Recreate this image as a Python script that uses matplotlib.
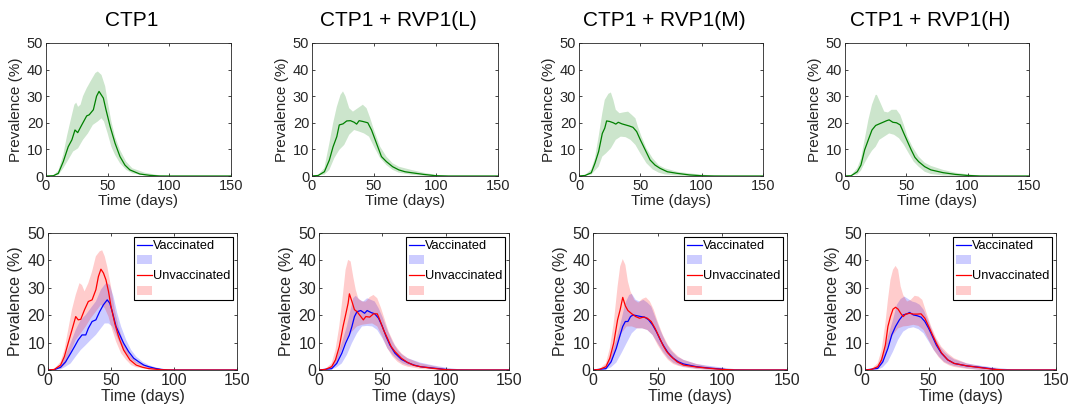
import matplotlib
matplotlib.use('Agg')
import matplotlib.pyplot as plt
from matplotlib.lines import Line2D
from matplotlib.patches import Patch

plt.rcParams['font.family'] = ['Liberation Sans', 'DejaVu Sans']

# column titles
titles = ['CTP1', 'CTP1 + RVP1(L)', 'CTP1 + RVP1(M)', 'CTP1 + RVP1(H)']

# top row: overall prevalence (day, %) - median, upper and lower bands
g1_mid = [(0,0),(6,0.1),(10,1),(14,5.4),(18,11),(21,13.6),(23.5,17.3),(25.7,16.3),(29,19.2),(33,22.6),(35,23),(38.4,24.9),(41,30),(43,31.8),(46.5,29.3),(48.6,25),(52,18.6),(56,12.3),(60,7.3),(64,4.1),(68,2.3),(76,0.75),(84,0.25),(92,0),(150,0)]
g1_hi = [(0,0),(6,0.3),(10,2),(14,8),(17,15),(20,21),(23,26.8),(24.5,27.6),(26,26),(28,26.8),(30,30),(33,33),(36,35.5),(40,38.7),(42,39.3),(45,38),(48,33.7),(50,28),(53,20.5),(56,14.8),(60,9.8),(65,5.4),(70,2.9),(80,1.25),(90,0.4),(100,0),(150,0)]
g1_lo = [(0,0),(10,0.3),(14,2.9),(18,6),(22,9.2),(26,10.4),(30,13.6),(34,16),(38,19.2),(42,20.5),(45,21.7),(47,20.5),(50,16),(53,11),(56,7.9),(60,4.8),(65,2.3),(70,1),(80,0.2),(90,0),(150,0)]

g2_mid = [(0,0),(5,0.2),(10,1.6),(14,6),(17,11),(20,14.8),(22,19.2),(25,19.6),(28,20.7),(31,20.8),(34,20.2),(36,19.5),(38,20.8),(41,20.5),(45,20),(48,17.3),(52,12.3),(56,7.3),(60,5.4),(65,3.5),(70,2.3),(75,1.6),(80,1.25),(90,0.6),(100,0.1),(110,0),(150,0)]
g2_hi = [(0,0),(5,0.4),(10,3),(14,12.3),(17,19.8),(20,26),(23,30.5),(25,31.8),(27,30),(30,25.5),(33,24.2),(37,25.5),(41,26.8),(44,25.5),(47,21.7),(50,17.3),(55,11),(60,7.3),(65,4.8),(70,3.5),(80,2.3),(90,1.25),(100,0.4),(110,0),(150,0)]
g2_lo = [(0,0),(10,0.5),(14,2.3),(18,6.7),(22,9.8),(26,11.7),(30,15.5),(34,17.3),(38,16.7),(42,16),(46,14.8),(50,11),(55,6.7),(60,4.1),(65,2.3),(70,1.25),(80,0.5),(90,0.1),(100,0),(150,0)]

g3_mid = [(0,0),(5,0.2),(10,1.2),(13,4.8),(16,9.2),(19,16),(21,18),(22.5,20.7),(25,20.5),(28,20),(30,19.5),(32,20.2),(35,19.6),(38,19.2),(41,18.8),(44,18.3),(47,16.7),(50,13.6),(54,9.8),(58,6),(62,4.1),(66,2.9),(72,1.6),(80,1),(90,0.4),(100,0.1),(110,0),(150,0)]
g3_hi = [(0,0),(5,0.4),(10,2.5),(13,6.7),(16,14.8),(19,23.6),(21,28.6),(24,30.9),(26,31.4),(28,28.6),(30,24.9),(33,23.6),(36,23.9),(40,24.2),(43,23),(46,21.7),(48,18.6),(51,14.8),(55,10.4),(60,6.7),(65,4.1),(70,2.9),(80,1.6),(90,1),(100,0.5),(115,0.1),(120,0),(150,0)]
g3_lo = [(0,0),(10,0.5),(13,2),(16,3.5),(19,7.3),(22,8.5),(26,10.4),(30,13.6),(34,14.8),(38,14.6),(42,13.6),(46,11.7),(50,8.5),(55,4.8),(60,2.5),(65,1.25),(70,0.6),(80,0.2),(90,0),(150,0)]

g4_mid = [(0,0),(5,0.1),(10,1.6),(13,4.1),(16,9.8),(19,13.6),(22,17.3),(25,19),(28,19.6),(31,20.2),(34,20.8),(36,21.1),(39,20.2),(42,20),(45,19.2),(48,16),(51,12.9),(54,9.8),(57,7),(60,5.4),(65,3.5),(70,2.3),(80,1.25),(90,0.6),(100,0.2),(110,0),(150,0)]
g4_hi = [(0,0),(5,0.3),(10,3),(13,6.5),(16,13.6),(19,21),(22,26.8),(25,30.5),(26,30.5),(29,27.4),(32,24.2),(35,23.9),(38,24.9),(42,24.9),(45,23),(48,19.2),(51,14.8),(55,11),(60,7.3),(65,5),(70,3.8),(80,2.3),(90,1.25),(100,0.6),(110,0.2),(120,0),(150,0)]
g4_lo = [(0,0),(10,0.5),(13,2),(16,4.8),(19,7.3),(22,9.5),(25,11),(28,13.6),(32,14.8),(36,16),(40,15.5),(44,14.2),(48,11.7),(52,8.5),(56,5.4),(60,3.5),(65,1.6),(70,0.75),(80,0.2),(90,0),(150,0)]

# bottom row: vaccinated (v) and unvaccinated (u)
v1_mid = [(0,0),(5,0.1),(10,1),(14,3),(18,6.1),(21,8.5),(24,11),(27,12.8),(30,12.8),(32,15.2),(35,17.7),(38,18.3),(41,21.3),(44,23.8),(47,25.6),(49,24.4),(51,21.3),(54,15.9),(57,12.8),(60,9.8),(64,6.7),(68,4.3),(72,3),(76,1.8),(80,1.2),(85,0.6),(90,0.2),(95,0),(150,0)]
v1_hi = [(0,0),(5,0.2),(10,1.5),(14,5.5),(18,9.8),(22,14.6),(26,18.3),(30,20.1),(34,22.6),(38,25),(42,29.3),(46,31.7),(49,31.1),(52,26.8),(55,20.7),(58,15.9),(62,11),(66,7.3),(70,4.9),(75,3),(80,1.8),(85,1),(90,0.5),(100,0),(150,0)]
v1_lo = [(0,0),(10,0.2),(14,1.2),(18,2.4),(22,4.9),(26,7.3),(30,9.1),(34,11),(38,12.8),(42,15.2),(45,17),(48,17),(51,15.9),(54,12.8),(57,9.8),(60,7.3),(65,4.3),(70,2.4),(75,1.5),(80,0.7),(90,0.1),(95,0),(150,0)]
u1_mid = [(0,0),(5,0.2),(10,1.8),(13,4.9),(16,9.8),(19,14.6),(22,19.5),(24,18.3),(26,18.5),(29,22),(32,25),(35,25.6),(38,29.3),(40,34.1),(42,36.8),(44,35.4),(46,32.9),(48,28.7),(50,23.2),(53,17),(56,12.2),(60,7.3),(65,3.7),(70,1.8),(75,1),(80,0.5),(90,0.1),(100,0),(150,0)]
u1_hi = [(0,0),(5,0.4),(10,3),(13,7.3),(16,14.6),(19,22),(22,27.4),(25,31.7),(27,31),(29,28.7),(32,31.7),(35,36),(38,41.5),(41,43.3),(43,43.7),(45,41.5),(47,37.8),(50,30.5),(53,22),(56,15.9),(60,9.8),(65,5.5),(70,3),(80,1.2),(90,0.3),(100,0),(150,0)]
u1_lo = [(0,0),(10,0.5),(14,2.2),(18,6.7),(22,11),(26,13.4),(30,15.9),(34,18.9),(38,21.3),(42,23.8),(45,22.6),(48,19.5),(51,14.6),(54,10.4),(58,6.1),(62,3.7),(66,1.8),(70,1),(80,0.2),(90,0),(150,0)]

v2_mid = [(0,0),(10,0.5),(14,2.4),(18,6.1),(21,9.8),(24,12.8),(26,15.9),(28,19.5),(30,21.3),(33,21.7),(36,20.7),(38,21.7),(41,21),(44,20.5),(47,18.9),(50,15.9),(53,12.2),(56,9.1),(60,6.1),(65,3.9),(70,2.7),(75,1.8),(80,1.2),(90,0.7),(100,0.2),(105,0),(150,0)]
v2_hi = [(0,0),(5,0.2),(10,1.5),(14,4.9),(18,9.8),(22,15.9),(25,22),(27,26.2),(29,27.1),(32,25.6),(35,25),(38,26.2),(41,25.6),(44,25),(47,22.6),(50,19.5),(54,14.6),(58,10.4),(62,7.3),(66,5.5),(70,4.3),(80,2.7),(90,1.7),(100,0.9),(110,0.3),(120,0),(150,0)]
v2_lo = [(0,0),(10,0.1),(14,1),(18,2.4),(22,5.5),(26,9.8),(30,13.4),(34,15.9),(38,16.1),(42,15.9),(46,14.6),(50,11.6),(54,7.9),(58,5.5),(62,3.7),(66,2.4),(70,1.7),(80,1),(90,0.3),(100,0),(150,0)]
u2_mid = [(0,0),(5,0.2),(10,1.2),(13,3.7),(16,8.5),(19,15.9),(21,20.1),(23,24.4),(24,27.8),(26,25),(28,22),(30,21.3),(32,20.1),(35,18.3),(37,19.5),(40,19.3),(43,20.5),(46,20.5),(48,18.3),(51,14.6),(54,11.6),(57,8.5),(60,6.7),(65,4.3),(70,2.7),(75,1.7),(80,1.2),(90,0.6),(100,0.1),(110,0),(150,0)]
u2_hi = [(0,0),(5,0.4),(10,2.5),(13,7.3),(16,15.9),(19,28),(21,36.6),(23,40.2),(25,39.6),(27,34.1),(29,29.3),(31,26.2),(34,25),(37,25),(40,26.6),(43,27.4),(46,26.2),(49,22.6),(52,18.3),(55,14),(60,9.1),(65,6.1),(70,4.3),(80,2.4),(90,1.5),(100,0.6),(110,0.1),(120,0),(150,0)]
u2_lo = [(0,0),(10,0.3),(14,2.4),(18,7.3),(22,11.6),(26,14),(30,15.9),(34,16.5),(38,16.8),(42,17),(46,15.9),(50,12.2),(54,7.9),(58,4.9),(62,3),(66,1.8),(70,1.2),(80,0.4),(90,0.1),(100,0),(150,0)]

v3_mid = [(0,0),(10,0.5),(14,3),(18,7.9),(21,12.8),(23,15.9),(25,17.7),(27,17.7),(29,19.5),(31,20.1),(34,19.8),(37,19.5),(40,19.3),(43,18.3),(46,16.5),(49,14),(52,11),(55,8.5),(58,6.3),(62,4.3),(66,3),(70,2.2),(80,1.2),(90,0.7),(100,0.3),(105,0),(150,0)]
v3_hi = [(0,0),(5,0.2),(10,1.5),(14,5.5),(18,11),(22,18.3),(25,24.4),(28,27.4),(30,27.8),(33,25.6),(36,25),(39,25.6),(42,24.6),(45,23.2),(48,19.5),(52,14.6),(56,10.4),(60,7.3),(65,4.9),(70,3.7),(80,2.2),(90,1.5),(100,0.9),(110,0.3),(120,0),(150,0)]
v3_lo = [(0,0),(10,0.1),(14,1),(18,2.7),(22,6.1),(26,9.8),(30,13.4),(34,15.2),(38,15.2),(42,14.6),(46,12.8),(50,9.8),(54,6.7),(58,4.3),(62,2.7),(66,1.8),(70,1.2),(80,0.5),(90,0.1),(100,0),(150,0)]
u3_mid = [(0,0),(5,0.2),(10,1.2),(13,4.3),(16,9.8),(19,18.3),(21,22),(23,26.5),(25,23.4),(27,21.7),(30,20.5),(33,19.5),(36,18.9),(39,19.3),(42,18.9),(45,17.7),(48,15.2),(51,12.2),(54,9.1),(57,6.7),(60,5.1),(65,3),(70,1.8),(80,1.1),(90,0.6),(100,0.2),(110,0),(150,0)]
u3_hi = [(0,0),(5,0.4),(10,2.5),(13,7.9),(16,17),(19,30.5),(21,37.8),(23,40.5),(25,38.4),(27,32.3),(29,28.7),(32,25.6),(35,24.6),(38,25.9),(41,26.5),(44,25),(47,22),(50,17.7),(54,12.8),(58,9.1),(62,6.7),(66,4.9),(70,3.7),(80,2.2),(90,1.2),(100,0.6),(110,0.1),(120,0),(150,0)]
u3_lo = [(0,0),(10,0.3),(14,2.4),(18,7.9),(22,13.4),(26,15.9),(30,15.9),(34,15.2),(38,15.2),(42,14.6),(46,12.8),(50,9.1),(54,6.1),(58,3.7),(62,2.2),(66,1.5),(70,1),(80,0.3),(90,0),(150,0)]

v4_mid = [(0,0),(10,0.6),(14,3),(18,7.9),(21,12.8),(24,15.9),(27,18.3),(30,20.1),(33,20.5),(35,21),(38,20.1),(41,19.8),(44,19.3),(47,17.7),(50,15.2),(53,12.2),(56,9.1),(60,6.1),(65,3.7),(70,2.4),(80,1.5),(90,1),(100,0.4),(105,0),(150,0)]
v4_hi = [(0,0),(5,0.2),(10,1.5),(14,5.5),(18,12.2),(22,18.3),(25,23.8),(28,25.9),(31,26.8),(34,25.9),(37,25),(40,24.6),(43,23.8),(46,22),(50,17.7),(54,12.8),(58,9.1),(62,6.7),(66,5.1),(70,3.9),(80,2.4),(90,1.6),(100,1),(110,0.5),(115,0.1),(120,0),(150,0)]
v4_lo = [(0,0),(10,0.1),(14,1),(18,3),(22,6.7),(26,11),(30,14),(34,15.2),(38,15.6),(42,14.9),(46,13.4),(50,10.4),(54,7.3),(58,4.9),(62,3),(66,2.1),(70,1.5),(80,0.6),(90,0.1),(100,0),(150,0)]
u4_mid = [(0,0),(5,0.2),(10,1.2),(13,3.7),(16,9.1),(18,15.9),(20,19.5),(22,22.2),(24,22.9),(26,22.2),(28,20.7),(30,19.5),(32,20.4),(35,20.7),(38,20.4),(41,20.4),(44,20.5),(47,18.9),(50,15.9),(53,12.8),(56,9.8),(60,6.3),(65,3.7),(70,2.4),(80,1.5),(90,0.9),(100,0.3),(110,0),(150,0)]
u4_hi = [(0,0),(5,0.4),(10,2.5),(13,7.3),(16,17),(18,25.6),(20,32.9),(22,36.6),(24,38),(26,36.6),(28,30.5),(30,27.4),(33,25),(36,25.6),(39,27.1),(42,26.8),(45,25.6),(48,21.3),(52,15.9),(56,11.6),(60,8.5),(65,6.1),(70,4.3),(80,2.4),(90,1.5),(100,0.7),(110,0.2),(115,0),(150,0)]
u4_lo = [(0,0),(10,0.3),(14,2.4),(18,8.5),(22,12.8),(26,15.2),(30,15.9),(34,16.1),(38,16.5),(42,16.1),(46,14.6),(50,11),(54,7.3),(58,4.6),(62,2.7),(66,1.7),(70,1.1),(80,0.4),(90,0),(150,0)]

top_sets = [(g1_mid, g1_hi, g1_lo), (g2_mid, g2_hi, g2_lo), (g3_mid, g3_hi, g3_lo), (g4_mid, g4_hi, g4_lo)]
bot_sets = [(v1_mid, v1_hi, v1_lo, u1_mid, u1_hi, u1_lo),
            (v2_mid, v2_hi, v2_lo, u2_mid, u2_hi, u2_lo),
            (v3_mid, v3_hi, v3_lo, u3_mid, u3_hi, u3_lo),
            (v4_mid, v4_hi, v4_lo, u4_mid, u4_hi, u4_lo)]

GREEN = (0, 0.5, 0)
BLUE = (0, 0, 1)
RED = (1, 0, 0)
TXT = '#262626'
W, H = 1068, 412

# axes boxes in pixels (left, right)
top_x = [(46, 231), (312, 498), (579, 763), (845, 1029)]
bot_x = [(48, 237), (319, 509), (593, 787), (865, 1056)]


def band(ax, hi, lo, color):
    xs = [p[0] for p in hi] + [p[0] for p in lo[::-1]]
    ys = [p[1] for p in hi] + [p[1] for p in lo[::-1]]
    ax.fill(xs, ys, color=color, alpha=0.2, lw=0)


def line(ax, pts, color):
    ax.plot([p[0] for p in pts], [p[1] for p in pts], color=color, lw=0.9)


def style(ax, fs_tick, fs_lab):
    ax.set_xlim(0, 150)
    ax.set_ylim(0, 50)
    ax.set_xticks([0, 50, 100, 150])
    ax.set_yticks(range(0, 51, 10))
    ax.tick_params(direction='in', top=True, right=True, length=2.5, width=0.6,
                   labelsize=fs_tick, colors=TXT, pad=2)
    for s in ax.spines.values():
        s.set_color(TXT)
        s.set_linewidth(0.6)
    ax.set_xlabel('Time (days)', fontsize=fs_lab, labelpad=1, color=TXT)
    ax.set_ylabel('Prevalence (%)', fontsize=fs_lab, labelpad=3, color=TXT)


fig = plt.figure(figsize=(W / 100, H / 100), dpi=100)

for i in range(4):
    l, r = top_x[i]
    ax = fig.add_axes([l / W, 1 - 176 / H, (r - l) / W, 133 / H])
    mid, hi, lo = top_sets[i]
    band(ax, hi, lo, GREEN)
    line(ax, mid, GREEN)
    style(ax, 10.5, 11)
    fig.text(((l + r) / 2 - 6.5) / W, 1 - 26 / H, titles[i], fontsize=15,
             ha='center', va='baseline', color='black')

for i in range(4):
    l, r = bot_x[i]
    ax = fig.add_axes([l / W, 1 - 370 / H, (r - l) / W, 137 / H])
    vm, vh, vl, um, uh, ul = bot_sets[i]
    band(ax, vh, vl, BLUE)
    band(ax, uh, ul, RED)
    line(ax, vm, BLUE)
    line(ax, um, RED)
    style(ax, 11.5, 11.5)
    handles = [Line2D([], [], color=BLUE, lw=0.9), Patch(facecolor=BLUE, alpha=0.2, lw=0),
               Line2D([], [], color=RED, lw=0.9), Patch(facecolor=RED, alpha=0.2, lw=0)]
    leg = ax.legend(handles, ['Vaccinated', '', 'Unvaccinated', ''], loc='upper right',
                    fontsize=9.2, frameon=True, fancybox=False, framealpha=1,
                    edgecolor='black', borderpad=0.2, labelspacing=0.25,
                    handlelength=1.2, handletextpad=0.05, borderaxespad=0.35)
    leg.get_frame().set_linewidth(0.8)

fig.savefig('out.png', dpi=100)
